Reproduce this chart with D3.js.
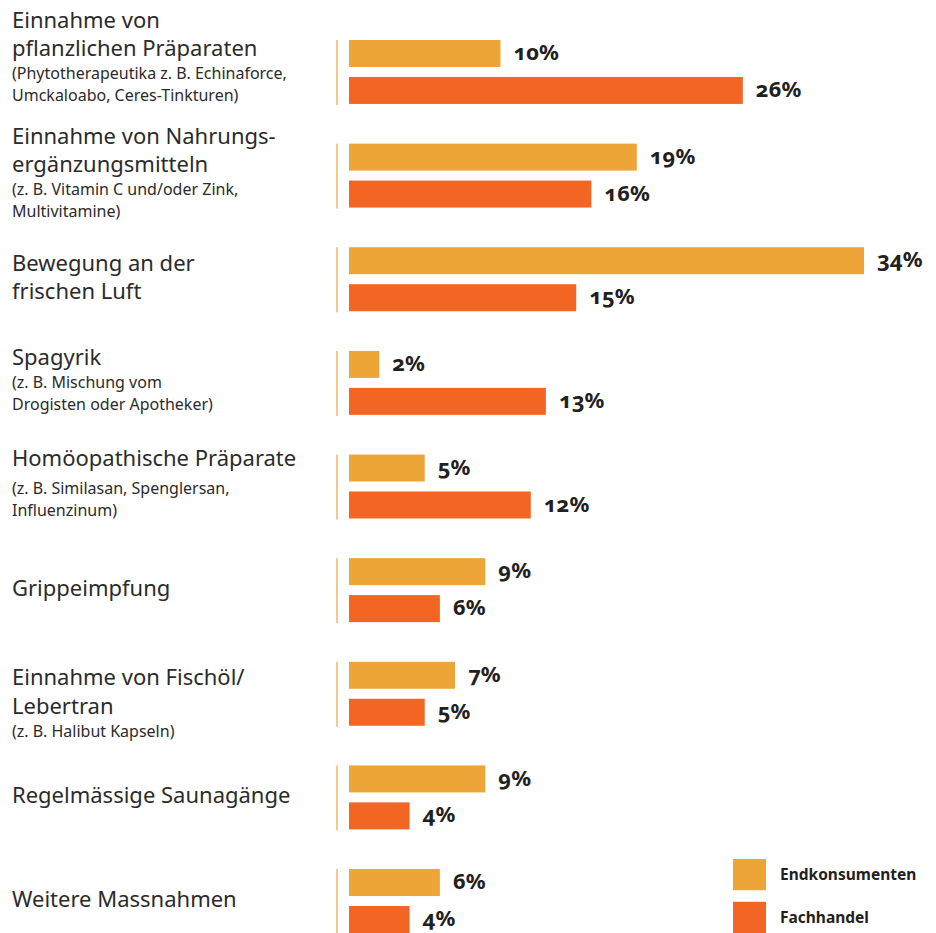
<!DOCTYPE html>
<html>
<head>
<meta charset="utf-8">
<script src="https://cdn.jsdelivr.net/npm/d3@7"></script>
<style>
  html, body { margin: 0; padding: 0; background: #fff; }
  svg { display: block; }
  .main { font-family: "Noto Sans", sans-serif; font-size: 22px; fill: #2b2b2b; }
  .sub { font-family: "Noto Sans", sans-serif; font-size: 16px; fill: #2b2b2b; }
  .val { font-family: "Noto Sans", sans-serif; font-size: 22px; font-weight: 700; fill: #231f20; font-variant-numeric: oldstyle-nums; }
  .leg { font-family: "Noto Sans", sans-serif; font-size: 15.5px; font-weight: 700; fill: #231f20; }
</style>
</head>
<body>
<script>
// Measures taken against colds, in percent of answers
const categories = [
  "Einnahme von pflanzlichen Präparaten",
  "Einnahme von Nahrungsergänzungsmitteln",
  "Bewegung an der frischen Luft",
  "Spagyrik",
  "Homöopathische Präparate",
  "Grippeimpfung",
  "Einnahme von Fischöl/Lebertran",
  "Regelmässige Saunagänge",
  "Weitere Massnahmen"
];
const mainLines = [
  ["Einnahme von", "pflanzlichen Präparaten"],
  ["Einnahme von Nahrungs-", "ergänzungsmitteln"],
  ["Bewegung an der", "frischen Luft"],
  ["Spagyrik"],
  ["Homöopathische Präparate"],
  ["Grippeimpfung"],
  ["Einnahme von Fischöl/", "Lebertran"],
  ["Regelmässige Saunagänge"],
  ["Weitere Massnahmen"]
];
const subLines = [
  ["(Phytotherapeutika z. B. Echinaforce,", "Umckaloabo, Ceres-Tinkturen)"],
  ["(z. B. Vitamin C und/oder Zink,", "Multivitamine)"],
  [],
  ["(z. B. Mischung vom", "Drogisten oder Apotheker)"],
  ["(z. B. Similasan, Spenglersan,", "Influenzinum)"],
  [],
  ["(z. B. Halibut Kapseln)"],
  [],
  []
];
const seriesNames = ["Endkonsumenten", "Fachhandel"];
const endkonsumenten = [10, 19, 34, 2, 5, 9, 7, 9, 6];
const fachhandel = [26, 16, 15, 13, 12, 6, 5, 4, 4];
const seriesColors = ["#eda537", "#f26522"];

const W = 936, H = 933;
const svg = d3.select("body").append("svg").attr("width", W).attr("height", H);

const rows = categories.map((c, i) => ({
  cat: c, i,
  values: [endkonsumenten[i], fachhandel[i]]
}));

const y = d3.scaleBand().domain(categories).range([40, 933]).paddingInner(0.383).paddingOuter(0);
const ySub = d3.scaleBand().domain(seriesNames).range([0, y.bandwidth()]).paddingInner(0.27).paddingOuter(0);
const x = d3.scaleLinear().domain([0, 34]).range([349, 864]);

const grp = svg.append("g").selectAll("g.grp").data(rows).join("g")
  .attr("class", "grp")
  .attr("transform", d => `translate(0,${y(d.cat)})`);

// light vertical rule left of each pair of bars
grp.append("rect")
  .attr("x", 336)
  .attr("y", 0)
  .attr("width", 2)
  .attr("height", y.bandwidth() + 1)
  .attr("fill", "#f6c88a");

grp.selectAll("rect.bar").data(d => d.values.map((v, k) => ({ v, k }))).join("rect")
  .attr("class", "bar")
  .attr("x", x(0))
  .attr("y", d => ySub(seriesNames[d.k]))
  .attr("width", d => x(d.v) - x(0))
  .attr("height", ySub.bandwidth())
  .attr("fill", d => seriesColors[d.k]);

grp.selectAll("text.val").data(d => d.values.map((v, k) => ({ v, k }))).join("text")
  .attr("class", "val")
  .attr("x", d => x(d.v) + 13)
  .attr("y", d => ySub(seriesNames[d.k]) + ySub.bandwidth() / 2)
  .attr("dy", "0.3em")
  .text(d => d.v + "%");

// category labels: heading lines, then the smaller note lines below
const mainLH = 28.5, subLH = 22, subOffset = 25;
rows.forEach((d, i) => {
  const m = mainLines[i], s = subLines[i];
  const extra = (i === 4) ? 5 : 0; // the note sits a little lower under a single long heading
  const mainCenters = m.map((_, j) => mainLH / 2 + j * mainLH);
  const lastMain = mainCenters[mainCenters.length - 1];
  const subCenters = s.map((_, j) => lastMain + subOffset + extra + j * subLH);
  const mainH = m.length * mainLH;
  const fullH = s.length ? subCenters[subCenters.length - 1] + 10.25 : mainH;
  // two-line notes are centred together with the heading; otherwise the heading alone is centred
  const anchorH = s.length >= 2 ? fullH : mainH;
  const center = y(d.cat) + y.bandwidth() / 2 + (s.length >= 2 ? -4 : -2);
  let top = center - anchorH / 2;
  if (i === 0) top = 6; // first label starts at the top margin
  const t = svg.append("g").attr("transform", `translate(12,${top})`);
  m.forEach((line, j) => {
    t.append("text").attr("class", "main")
      .attr("x", 0).attr("y", mainCenters[j]).attr("dy", "0.35em").text(line);
  });
  s.forEach((line, j) => {
    t.append("text").attr("class", "sub")
      .attr("x", 0).attr("y", subCenters[j]).attr("dy", "0.35em").text(line);
  });
});

// legend
const leg = svg.append("g").attr("transform", "translate(733,859)");
const legY = d3.scaleBand().domain(seriesNames).range([0, 74]).paddingInner(0.27);
seriesNames.forEach((n, k) => {
  leg.append("rect").attr("x", 0).attr("y", legY(n)).attr("width", 33).attr("height", legY.bandwidth()).attr("fill", seriesColors[k]);
  leg.append("text").attr("class", "leg").attr("x", 47).attr("y", legY(n) + legY.bandwidth() / 2).attr("dy", "0.35em").text(n);
});
</script>
</body>
</html>
